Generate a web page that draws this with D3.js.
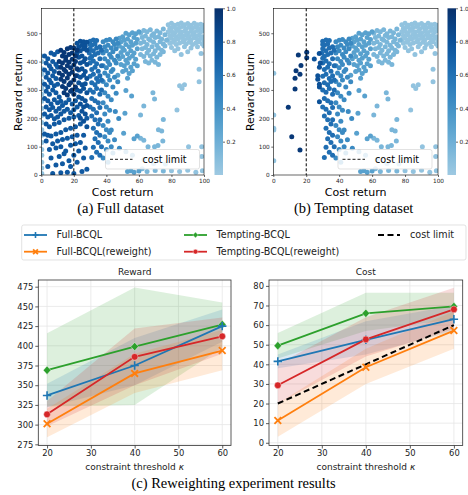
<!DOCTYPE html>
<html>
<head>
<meta charset="utf-8">
<script src="https://cdn.jsdelivr.net/npm/d3@7"></script>
<style>
  body { margin: 0; background: #fff; }
  svg { display: block; }
</style>
</head>
<body>
<div id="chart"></div>
<script>
// ---------- scatter data: [cost, reward], one array per colour band ----------
// points with cost >= ~29 appear in both datasets
const shared30 = [[30,472],[31,458],[32,476],[33,462],[34,474],[30,445],[32,438],[34,448],[36,452],[31,418],[33,425],[35,430],[37,440],
  [30,395],[32,402],[34,392],[36,410],[31,372],[33,380],[35,366],[37,385],[30,348],[32,355],[34,340],[36,350],[31,325],[33,318],[35,330],
  [30,300],[32,292],[34,305],[36,285],[31,270],[33,262],[35,255],[30,240],[32,232],[34,220],[36,238],[31,208],[33,195],[35,180],[32,165],
  [34,150],[36,140],[33,128],[35,115],[32,98],[34,80],[31,62],[36,70],[37,100],[36,195],[37,300],[37,335],[30,460],[29.5,430],[30,412]];
const shared40 = [[38,470],[40,475],[42,478],[44,470],[46,480],[39,452],[41,458],[43,448],[45,460],[47,465],[38,430],[40,438],[42,425],
  [44,435],[46,445],[39,410],[41,400],[43,415],[45,405],[47,420],[38,385],[40,378],[42,390],[44,372],[46,395],[39,360],[41,350],[43,365],
  [45,345],[38,330],[40,318],[42,335],[44,310],[39,290],[41,278],[43,265],[38,255],[40,240],[42,228],[39,215],[41,190],[38,175],[40,160],
  [42,150],[39,135],[41,120],[43,100],[40,90],[44,78],[38,60],[41,45],[45,124],[43,159],[45.5,224],[46,288],[47,329],[47.6,199],[48,94]];
const shared50 = [[48,482],[50,488],[52,500],[54,495],[56,502],[58,498],[60,505],[49,470],[51,475],[53,480],[55,470],[57,485],[59,478],
  [48,455],[50,448],[52,460],[54,452],[56,458],[58,465],[49,432],[51,440],[53,428],[55,438],[57,430],[59,445],[48,410],[50,418],[52,405],
  [54,412],[56,420],[58,408],[49,390],[51,385],[53,395],[55,380],[57,392],[50,365],[52,370],[54,358],[56,368],[59,385],[51.4,218],
  [50.6,147],[52,298],[53,341],[55.5,279],[52,82],[56,70],[53,12],[55,15],[57,10],[60,14],[57,128],[59,138],[47,352]];
const shared70 = [[61,500],[63,510],[65,505],[67,512],[69,498],[71,508],[73,502],[75,515],[62,485],[64,490],[66,480],[68,492],[70,485],
  [72,488],[74,480],[76,495],[61,465],[63,470],[65,460],[67,475],[69,468],[71,458],[73,470],[75,462],[77,475],[62,445],[64,450],[66,440],
  [68,452],[70,438],[72,448],[74,440],[76,455],[61,425],[63,418],[65,430],[67,420],[69,428],[71,415],[73,425],[75,435],[64,400],[66,395],
  [68,405],[70,398],[72,390],[68.6,290],[69.6,268],[63,243],[61,212],[75,196],[74,155],[72,160],[63,123],[61,130],[65.6,100],[69.6,100],
  [74.7,120],[71.7,104],[76.3,39],[69,41],[63,55],[65,12],[70,16],[75,14],[62,22]];
const shared90 = [[78,530],[80,535],[82,528],[84,532],[86,536],[88,530],[90,534],[92,528],[94,535],[96,530],[98,532],[100,528],
  [79,518],[81,522],[83,515],[85,520],[87,524],[89,516],[91,521],[93,518],[95,523],[97,516],[99,520],
  [78,505],[80,508],[82,502],[84,510],[86,504],[88,507],[90,500],[92,508],[94,503],[96,510],[98,505],[100,508],
  [79,492],[81,495],[83,488],[85,496],[87,490],[89,494],[91,488],[93,496],[95,490],[97,494],[99,488],
  [78,478],[80,482],[82,475],[84,480],[86,485],[88,477],[90,482],[92,476],[94,484],[96,478],[98,482],[100,475],
  [79,465],[81,468],[83,460],[85,466],[87,470],[89,462],[91,468],[93,460],[95,466],[97,470],[99,462],
  [80,450],[84,445],[88,452],[92,448],[96,452],[100,455],[82,438],[90,435],[86,425],
  [98.2,429],[97,373],[88,318],[85,315],[86.5,305],[97,329],[83.4,229],[90.5,100],[98.6,100],[98.6,65],[81.4,53],
  [80,15],[85,12],[90,17],[95,10],[99,15]];
// low-cost points of the full dataset
const fullZero = [[0.3,5],[0.3,25],[0.3,45],[0.3,70],[0.3,90],[0.3,115],[0.3,140],[0.3,160],[0.3,185],[0.3,210],[0.3,235],
  [0.3,260],[0.3,285],[0.3,305],[0.3,330],[0.3,355],[0.3,375],[0.3,400],[0.3,420]];
const fullLowDark = [[2,420],[4,410],[6,430],[8,425],[10,435],[3,395],[5,385],[7,400],[9,390],[2,370],[4,360],[6,375],[8,365],[10,380],
  [3,345],[5,335],[7,350],[9,340],[2,320],[4,310],[6,325],[8,315],[10,320],[3,295],[5,285],[7,300],[9,290],[11,275],[2,270],[4,262],
  [6,250],[8,265],[10,255],[12,260],[3,240],[5,230],[7,238],[9,225],[11,235],[13,245],[15,255],[17,265],[19,250],[21,262],[2,215],
  [4,205],[6,210],[8,198],[10,205],[12,215],[14,225],[16,232],[18,220],[20,230],[22,240],[3,180],[5,170],[8,180],[11,185],[14,195],
  [17,200],[20,205],[23,210],[2,145],[4,140],[6,138],[9,145],[12,150],[15,160],[18,165],[21,170],[24,180],[3,120],[7,110],[10,120],
  [13,125],[16,130],[19,135],[22,140],[5,90],[9,95],[12,100],[15,85],[18,105],[21,110],[24,115],[6,60],[11,65],[14,75],[17,50],
  [20,70],[23,85],[4,30],[9,35],[13,40],[18,30],[22,45],[26,60],[7,5],[12,8],[16,10],[20,5],[25,12],[28,20],[27,95],[26,140],
  [28,200]];
const fullLowMid = [[22,465],[24,472],[26,470],[28,468],[23,452],[25,458],[27,455],[22,430],[24,438],[26,445],[28,440],[23,415],
  [25,420],[27,410],[24,395],[26,400],[28,390],[23,370],[25,375],[27,365],[22,350],[24,345],[26,352],[28,340],[23,325],[25,318],
  [27,322],[22,300],[24,295],[26,305],[28,290],[23,275],[25,270],[27,262],[24,250],[26,240],[28,245],[25,225],[27,215],[24,200],
  [26,190],[28,170]];
const fullLowNavy = [[12,440],[14,432],[16,445],[18,450],[20,448],[22,440],[13,420],[15,415],[17,425],[19,430],[21,420],[11,400],
  [13,395],[15,405],[17,398],[19,408],[21,400],[12,380],[14,372],[16,385],[18,378],[20,388],[22,375],[11,360],[13,352],[15,365],
  [17,355],[19,362],[21,350],[12,338],[14,330],[16,342],[18,325],[20,335],[13,312],[15,305],[17,318],[19,300],[21,310],[14,290],
  [16,282],[18,295],[20,285]];
// low-cost points of the tempting dataset
const temptZero = [[0.3,359],[0.3,212],[0.3,165],[0.3,159],[0.3,50]];
const temptLowMid = [[24.9,409],[27.9,429],[27,350],[27,338],[28,380],[28,310],[28,320],[28,258],[28.5,395]];
const temptLowNavy = [[15.2,423],[20.3,433],[20.3,414],[16.8,386],[13.8,368],[16.2,355],[13.2,341],[13.2,303],[9.1,239],
  [11.2,135],[16.2,88]];
// colour value of each band (colorbar scale)
const bandValues = { shared30: 0.62, shared40: 0.45, shared50: 0.3, shared70: 0.15, shared90: 0.05,
  zero: 0.05, lowMid: 0.8, lowDark: 0.75, lowNavy: 0.95 };
const costLimit = 20;
const cbarTicks = [0.2, 0.4, 0.6, 0.8, 1.0];

// ---------- line chart data ----------
const kappa = [20, 40, 60];
const seriesNames = ["Full-BCQL", "Full-BCQL(reweight)", "Tempting-BCQL", "Tempting-BCQL(reweight)"];
const seriesColors = ["#1f77b4", "#ff7f0e", "#2ca02c", "#d62728"];
const seriesMarkers = ["plus", "cross", "diamond", "circle"];
const rewardMean = [[337, 375, 425], [301, 365, 394], [369, 399, 427], [313, 386, 412]];
const rewardLow  = [[322, 350, 405], [284, 340, 369], [323, 325, 398], [298, 350, 390]];
const rewardHigh = [[352, 410, 446], [320, 390, 420], [416, 474, 455], [330, 422, 436]];
const costMean = [[41.5, 52.5, 63], [11.3, 38.5, 57.2], [49.5, 66, 69.5], [29.3, 52.7, 68]];
const costLow  = [[38, 45, 57], [3, 30, 48], [43, 57, 63], [20, 44, 58]];
const costHigh = [[45, 62, 70], [20, 48, 67], [56, 76.5, 76.5], [40, 64, 79]];
const costLimitLine = [20, 40, 60];

const W = 468, H = 495;
const svg = d3.select("#chart").append("svg").attr("width", W).attr("height", H)
  .style("font-family", "'DejaVu Sans', sans-serif");

const cmap = v => d3.interpolateBlues(0.37 + 0.63 * v);

// gradient for colorbars
const defs = svg.append("defs");
const grad = defs.append("linearGradient").attr("id", "cbar").attr("x1", 0).attr("y1", 1).attr("x2", 0).attr("y2", 0);
d3.range(0, 1.01, 0.1).forEach(t => grad.append("stop").attr("offset", t).attr("stop-color", cmap(t)));

function scatterPanel(opt) {
  const x = d3.scaleLinear([0, 100], [opt.x0, opt.x1]);
  const y = d3.scaleLinear([0, 588], [175, 8.3]);
  const g = svg.append("g");
  const clipId = "clip" + opt.id;
  defs.append("clipPath").attr("id", clipId).append("rect")
    .attr("x", opt.x0).attr("y", 8.3).attr("width", opt.x1 - opt.x0).attr("height", 175 - 8.3);
  const pg = g.append("g").attr("clip-path", `url(#${clipId})`);
  opt.groups.forEach(([pts, v]) => {
    pg.append("g").selectAll("circle").data(pts).join("circle")
      .attr("cx", d => x(d[0])).attr("cy", d => y(d[1])).attr("r", 2.5)
      .attr("fill", cmap(v));
  });
  // cost limit
  g.append("line").attr("x1", x(costLimit)).attr("x2", x(costLimit)).attr("y1", 8.3).attr("y2", 175)
    .attr("stroke", "#000").attr("stroke-width", 1).attr("stroke-dasharray", "3,2");
  // frame
  g.append("rect").attr("x", opt.x0).attr("y", 8.3).attr("width", opt.x1 - opt.x0).attr("height", 175 - 8.3)
    .attr("fill", "none").attr("stroke", "#000").attr("stroke-width", 0.6);
  // axes
  const ax = g.append("g").attr("transform", "translate(0,175)")
    .call(d3.axisBottom(x).tickValues([0, 20, 40, 60, 80, 100]).tickSize(2).tickPadding(1.5));
  const ay = g.append("g").attr("transform", `translate(${opt.x0},0)`)
    .call(d3.axisLeft(y).tickValues([0, 100, 200, 300, 400, 500]).tickSize(2).tickPadding(1.5));
  [ax, ay].forEach(a => {
    a.select(".domain").remove();
    a.selectAll("text").attr("font-size", "5.8px").attr("font-family", "'DejaVu Sans', sans-serif").attr("fill", "#222");
    a.selectAll("line").attr("stroke-width", 0.6);
  });
  g.append("text").attr("x", (opt.x0 + opt.x1) / 2).attr("y", 195.5).attr("text-anchor", "middle")
    .attr("font-size", "11px").text("Cost return");
  g.append("text").attr("transform", `translate(${opt.x0 - 19},92) rotate(-90)`).attr("text-anchor", "middle")
    .attr("font-size", "11px").text("Reward return");
  // legend
  const lg = g.append("g").attr("transform", `translate(${opt.lx},149.5)`);
  lg.append("rect").attr("width", 94).attr("height", 19.5).attr("rx", 2).attr("fill", "#fff").attr("fill-opacity", 0.85)
    .attr("stroke", "#d6d6d6").attr("stroke-width", 0.7);
  lg.append("line").attr("x1", 4.5).attr("x2", 27).attr("y1", 9.8).attr("y2", 9.8)
    .attr("stroke", "#000").attr("stroke-width", 0.9).attr("stroke-dasharray", "3,2");
  lg.append("text").attr("x", 37).attr("y", 13.5).attr("font-size", "9.6px").text("cost limit");
  // colorbar
  const cb = d3.scaleLinear([0, 1], [175, 8.3]);
  g.append("rect").attr("x", opt.cx).attr("y", 8.3).attr("width", 8.5).attr("height", 175 - 8.3)
    .attr("fill", "url(#cbar)");
  const ac = g.append("g").attr("transform", `translate(${opt.cx + 8.5},0)`)
    .call(d3.axisRight(cb).tickValues(cbarTicks).tickFormat(d3.format(".1f")).tickSize(2).tickPadding(1.5));
  ac.select(".domain").remove();
  ac.selectAll("text").attr("font-size", "5.8px").attr("font-family", "'DejaVu Sans', sans-serif").attr("fill", "#222");
  ac.selectAll("line").attr("stroke-width", 0.6);
  g.append("text").attr("x", (opt.x0 + opt.x1) / 2 - 2).attr("y", 212.5).attr("text-anchor", "middle")
    .attr("font-family", "'Liberation Serif', 'Times New Roman', serif").attr("font-size", "14.5px").text(opt.caption);
}

const V = bandValues;
scatterPanel({
  id: "a", x0: 41.3, x1: 204, cx: 214.5, lx: 105.5, caption: "(a) Full dataset",
  groups: [[shared90, V.shared90], [shared70, V.shared70], [shared50, V.shared50], [shared40, V.shared40],
    [shared30, V.shared30], [fullZero, V.zero], [fullLowDark, V.lowDark], [fullLowMid, V.lowMid], [fullLowNavy, V.lowNavy]]
});
scatterPanel({
  id: "b", x0: 273.3, x1: 438, cx: 447.5, lx: 338, caption: "(b) Tempting dataset",
  groups: [[shared90, V.shared90], [shared70, V.shared70], [shared50, V.shared50], [shared40, V.shared40],
    [shared30, V.shared30], [temptZero, V.zero], [temptLowMid, V.lowMid], [temptLowNavy, V.lowNavy]]
});

// ---------- marker drawing ----------
function drawMarker(sel, type, color, s) {
  if (type === "plus") {
    sel.append("path").attr("d", `M${-s},0H${s}M0,${-s}V${s}`).attr("stroke", color).attr("stroke-width", 1.6).attr("fill", "none");
  } else if (type === "cross") {
    const k = s * 0.8;
    sel.append("path").attr("d", `M${-k},${-k}L${k},${k}M${-k},${k}L${k},${-k}`).attr("stroke", color).attr("stroke-width", 1.8).attr("fill", "none");
  } else if (type === "diamond") {
    sel.append("path").attr("d", `M0,${-s}L${s * 0.9},0L0,${s}L${-s * 0.9},0Z`).attr("fill", color).attr("stroke", "#fff").attr("stroke-width", 0.4);
  } else {
    sel.append("circle").attr("r", s * 0.8).attr("fill", color).attr("stroke", "#fff").attr("stroke-width", 0.4);
  }
}

// ---------- legend ----------
const leg = svg.append("g");
leg.append("rect").attr("x", 21.7).attr("y", 225).attr("width", 444.3).attr("height", 35).attr("rx", 2)
  .attr("fill", "#fff").attr("stroke", "#d6d6d6").attr("stroke-width", 0.7);
const legPos = [[24, 235], [24, 251.7], [184, 235], [184, 251.7]];
seriesNames.forEach((name, i) => {
  const [lx, ly] = legPos[i];
  leg.append("line").attr("x1", lx).attr("x2", lx + 23).attr("y1", ly).attr("y2", ly)
    .attr("stroke", seriesColors[i]).attr("stroke-width", 1.8);
  drawMarker(leg.append("g").attr("transform", `translate(${lx + 11.5},${ly})`), seriesMarkers[i], seriesColors[i], 3);
  leg.append("text").attr("x", lx + 32.5).attr("y", ly + 3.4).attr("font-size", "9.6px").attr("fill", "#222").text(name);
});
leg.append("line").attr("x1", 378).attr("x2", 400).attr("y1", 235).attr("y2", 235)
  .attr("stroke", "#000").attr("stroke-width", 2).attr("stroke-dasharray", "6,3.5");
leg.append("text").attr("x", 410).attr("y", 238.4).attr("font-size", "9.6px").attr("fill", "#222").text("cost limit");

// ---------- line panels ----------
function linePanel(opt) {
  const x = d3.scaleLinear([18, 62], [opt.x0, opt.x1]);
  const y = d3.scaleLinear(opt.yDomain, [445.5, 280]);
  const g = svg.append("g");
  // grid
  g.append("g").selectAll("line").data(opt.yTicks).join("line")
    .attr("x1", opt.x0).attr("x2", opt.x1).attr("y1", d => y(d)).attr("y2", d => y(d))
    .attr("stroke", "#e6e6e6").attr("stroke-width", 0.8);
  g.append("g").selectAll("line").data([20, 30, 40, 50, 60]).join("line")
    .attr("y1", 280).attr("y2", 445.5).attr("x1", d => x(d)).attr("x2", d => x(d))
    .attr("stroke", "#e6e6e6").attr("stroke-width", 0.8);
  const area = d3.area().x((d, i) => x(kappa[i])).y0(d => y(d[0])).y1(d => y(d[1]));
  const line = d3.line().x((d, i) => x(kappa[i])).y(d => y(d));
  const order = [2, 0, 1, 3];
  order.forEach(s => {
    g.append("path").datum(opt.low[s].map((v, i) => [v, opt.high[s][i]])).attr("d", area)
      .attr("fill", seriesColors[s]).attr("fill-opacity", 0.16);
  });
  if (opt.limit) {
    g.append("path").datum(opt.limit).attr("d", line).attr("fill", "none")
      .attr("stroke", "#000").attr("stroke-width", 2).attr("stroke-dasharray", "6,3.5");
  }
  order.forEach(s => {
    g.append("path").datum(opt.mean[s]).attr("d", line).attr("fill", "none")
      .attr("stroke", seriesColors[s]).attr("stroke-width", 1.8);
    opt.mean[s].forEach((v, i) => {
      drawMarker(g.append("g").attr("transform", `translate(${x(kappa[i])},${y(v)})`), seriesMarkers[s], seriesColors[s], 4.2);
    });
  });
  g.append("rect").attr("x", opt.x0).attr("y", 280).attr("width", opt.x1 - opt.x0).attr("height", 165.5)
    .attr("fill", "none").attr("stroke", "#333").attr("stroke-width", 0.8);
  const ax = g.append("g").attr("transform", "translate(0,445.5)")
    .call(d3.axisBottom(x).tickValues([20, 30, 40, 50, 60]).tickSize(3).tickPadding(2));
  const ay = g.append("g").attr("transform", `translate(${opt.x0},0)`)
    .call(d3.axisLeft(y).tickValues(opt.yTicks).tickSize(3).tickPadding(2));
  [ax, ay].forEach(a => {
    a.select(".domain").remove();
    a.selectAll("text").attr("font-size", "8.4px").attr("font-family", "'DejaVu Sans', sans-serif").attr("fill", "#222");
    a.selectAll("line").attr("stroke", "#333").attr("stroke-width", 0.8);
  });
  const cx = (opt.x0 + opt.x1) / 2;
  g.append("text").attr("x", cx).attr("y", 275).attr("text-anchor", "middle").attr("font-size", "9px").attr("fill", "#222").text(opt.title);
  const xl = g.append("text").attr("x", cx).attr("y", 470).attr("text-anchor", "middle").attr("font-size", "9px").attr("fill", "#222");
  xl.append("tspan").text("constraint threshold ");
  xl.append("tspan").attr("font-style", "italic").text("κ");
}

linePanel({ x0: 38.3, x1: 231, yDomain: [273.5, 483.5], yTicks: d3.range(275, 476, 25), title: "Reward",
  mean: rewardMean, low: rewardLow, high: rewardHigh });
linePanel({ x0: 269, x1: 462.7, yDomain: [-1.4, 83], yTicks: d3.range(0, 81, 10), title: "Cost",
  mean: costMean, low: costLow, high: costHigh, limit: costLimitLine });

svg.append("text").attr("x", 233.5).attr("y", 487.5).attr("text-anchor", "middle")
  .attr("font-family", "'Liberation Serif', 'Times New Roman', serif").attr("font-size", "14.5px")
  .text("(c) Reweighting experiment results");
</script>
</body>
</html>
